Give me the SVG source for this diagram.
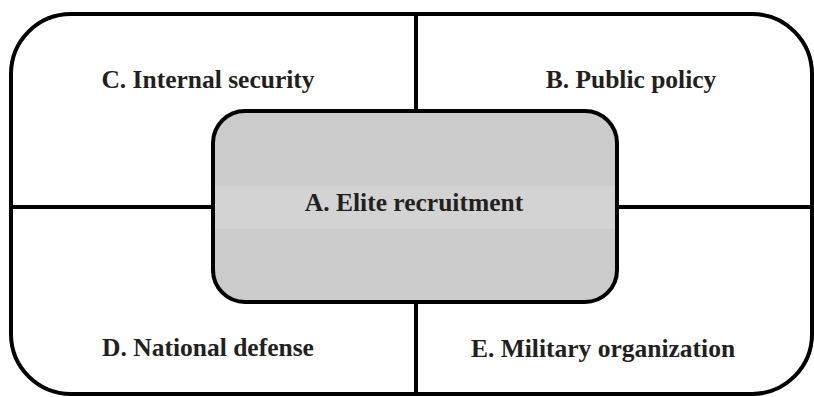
<svg xmlns="http://www.w3.org/2000/svg" width="814" height="397" viewBox="0 0 814 397">
<style>
.t{font-family:'Liberation Serif','Times New Roman',Times,serif;font-weight:700;font-size:25.5px;fill:#231f20;text-anchor:middle}
.ln{stroke:#000;stroke-width:4;fill:none}
</style>
<rect x="0" y="0" width="814" height="397" fill="#fff"/>
<g id="frame">
<rect class="ln" x="11" y="14" width="801" height="380" rx="60" ry="60"/>
</g>
<g id="connectors">
<line class="ln" x1="416" y1="14" x2="416" y2="111"/>
<line class="ln" x1="416" y1="302" x2="416" y2="394"/>
<line class="ln" x1="11" y1="207" x2="213" y2="207"/>
<line class="ln" x1="617" y1="207" x2="812" y2="207"/>
</g>
<g id="nodeC"><text class="t" x="208" y="88">C. Internal security</text></g>
<g id="nodeB"><text class="t" x="631" y="88">B. Public policy</text></g>
<g id="nodeA">
<rect x="213" y="111" width="404" height="191" rx="32" ry="32" fill="#cbcbcb"/>
<rect x="213" y="186" width="404" height="43" fill="#d3d3d4"/>
<rect class="ln" x="213" y="111" width="404" height="191" rx="32" ry="32"/>
<text class="t" x="414" y="211">A. Elite recruitment</text>
</g>
<g id="nodeD"><text class="t" x="208" y="356">D. National defense</text></g>
<g id="nodeE"><text class="t" x="603" y="357">E. Military organization</text></g>
</svg>
